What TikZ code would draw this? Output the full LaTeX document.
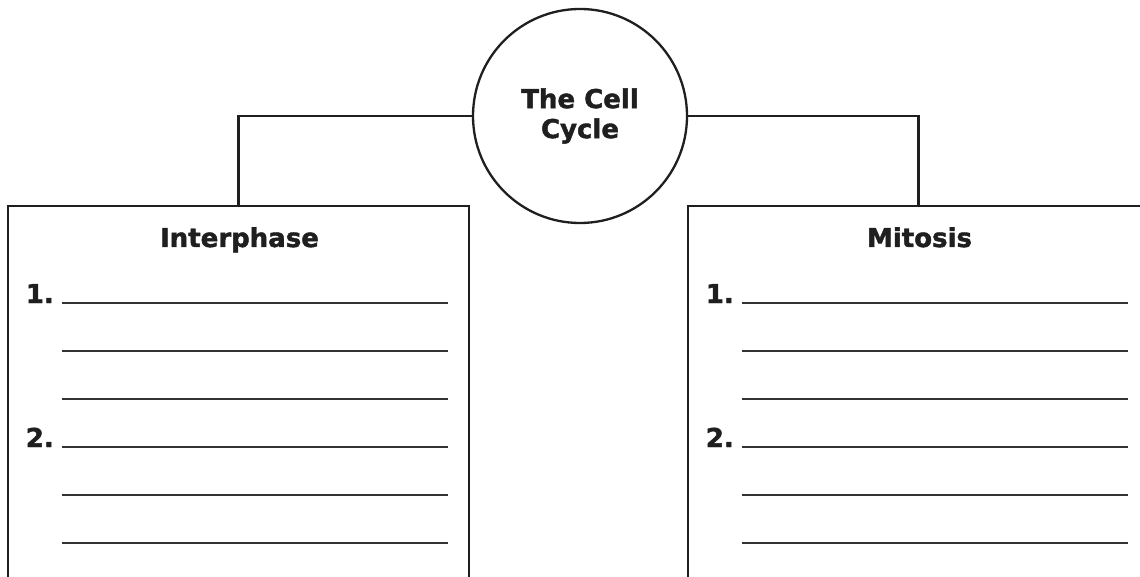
\documentclass[tikz,border=0pt]{standalone}
\usepackage{fontspec}
\setmainfont{DejaVu Sans}[BoldFeatures={FakeBold=1.6}]
\begin{document}
\begin{tikzpicture}[x=1pt,y=-1pt,
  frame/.style={line width=2.3pt,draw=black!88},
  ruling/.style={line width=2pt,draw=black!80},
  headtxt/.style={font=\bfseries\fontsize{26}{30}\selectfont,text=black!88,inner sep=0pt,anchor=base},
  numtxt/.style={font=\bfseries\fontsize{26}{30}\selectfont,text=black!88,inner sep=0pt,anchor=base east},
  hub/.style={circle,frame,minimum size=214pt,inner sep=0pt,align=center,font=\bfseries\fontsize{26}{30}\selectfont,text=black!88}]
\useasboundingbox (0,0) rectangle (1140,577);
\node[hub] (cyc) at (580,116) {The Cell\\Cycle};
\foreach \dx/\nm/\ttl in {0/L/Interphase,680/R/Mitosis}{
  \begin{scope}[xshift=\dx pt]
    \coordinate (\nm top) at (238.5,206);
    \draw[frame] (8,580) -- (8,206) -- (469,206) -- (469,580);
    \node[headtxt] (\nm head) at (239.5,247) {\ttl};
    \node[numtxt] (\nm one) at (54,303) {1.};
    \node[numtxt] (\nm two) at (54,447) {2.};
    \foreach \yy in {303,351,399,447,495,543}{
      \draw[ruling] (62,\yy) -- (448,\yy);
    }
  \end{scope}
}
\draw[frame] (cyc.west) -| (Ltop);
\draw[frame] (cyc.east) -| (Rtop);
\end{tikzpicture}
\end{document}
